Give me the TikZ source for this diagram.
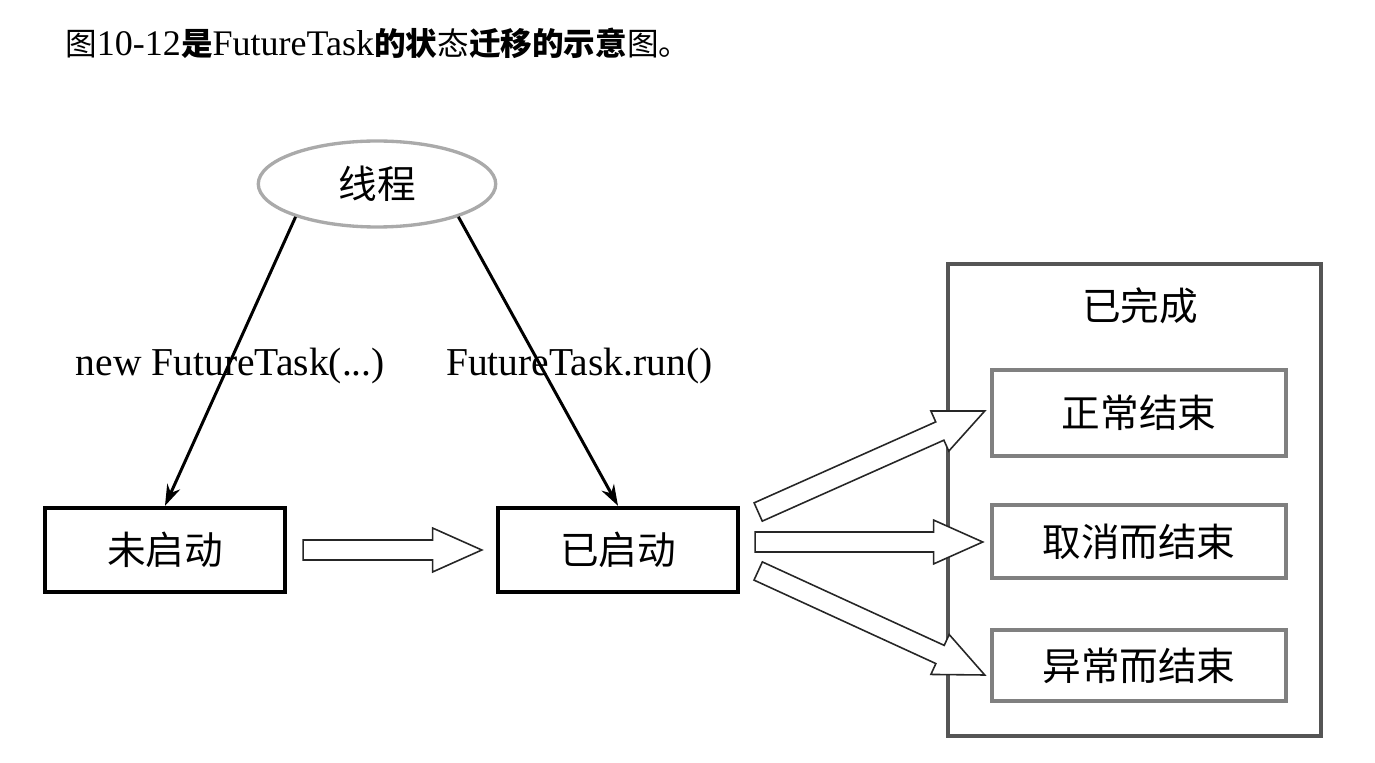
\documentclass[tikz,border=0pt]{standalone}
\usepackage{fontspec}
\setmainfont{Liberation Serif}
\newfontfamily\cjk{Noto Sans CJK SC}
\usetikzlibrary{shapes, arrows.meta, calc}

\definecolor{framegray}{RGB}{85,85,85}
\definecolor{boxgray}{RGB}{128,128,128}
\definecolor{ovalgray}{RGB}{170,170,170}

\newcommand{\capcjk}[1]{{\cjk\fontsize{18}{21}\selectfont #1}}
\newcommand{\capcjkb}[1]{{\cjk\bfseries\fontsize{18}{21}\selectfont #1}}

% open block arrow between two coordinates
\newcommand{\hollowarrow}[2]{%
  \coordinate (hb) at ($(#2)!28pt!(#1)$);
  \draw[hollow] ($(#1)!5.7pt!90:(#2)$) -- ($(hb)!5.7pt!90:(#2)$) -- ($(hb)!12.5pt!90:(#2)$) -- (#2)
    -- ($(hb)!12.5pt!-90:(#2)$) -- ($(hb)!5.7pt!-90:(#2)$) -- ($(#1)!5.7pt!-90:(#2)$) -- cycle;}

\begin{document}
\begin{tikzpicture}[x=0.02cm, y=-0.02cm,
        state/.style={rectangle, draw, line width=2.5pt, minimum width=4.8cm, minimum height=1.68cm, font=\cjk\fontsize{22}{26}\selectfont},
        result/.style={rectangle, draw=boxgray, line width=2.6pt, minimum width=5.88cm, font=\cjk\fontsize{22}{26}\selectfont},
        hollow/.style={draw=black!85, line width=0.9pt, fill=white, line join=miter},
        call/.style={-{Stealth[length=12pt, width=8pt]}, line width=1.7pt},
        method/.style={font=\fontsize{22.5}{26}\selectfont, yshift=-0.1cm}]
        \useasboundingbox (0,0) rectangle (1375,763);

        \node[anchor=west, inner sep=0] (title) at (65,43) {\fontsize{20.5}{24}\selectfont\capcjk{图}10-12\capcjkb{是}FutureTask\capcjkb{的状}\capcjk{态}\capcjkb{迁移的示意}\capcjk{图。}};

        \node[ellipse, draw=ovalgray, line width=1.9pt, minimum width=4.75cm, minimum height=1.72cm, font=\cjk\fontsize{22}{26}\selectfont] (thread) at (377,184) {线程};
        \node[state] (notstarted) at (165,550) {未启动};
        \node[state] (started) at (618,550) {已启动};

        \node[rectangle, draw=framegray, line width=2.6pt, minimum width=7.46cm, minimum height=9.44cm] (done) at (1134.5,500) {};
        \node[font=\cjk\fontsize{22}{26}\selectfont] (donelabel) at (1140,306) {已完成};
        \node[result, minimum height=1.72cm] (normal) at (1139,413) {正常结束};
        \node[result, minimum height=1.46cm] (cancelled) at (1139,541.5) {取消而结束};
        \node[result, minimum height=1.42cm] (failed) at (1139,665.5) {异常而结束};

        \draw[call] (thread.202) -- (notstarted.north) node[pos=.5, method] {new FutureTask(...)};
        \draw[call] (thread.338) -- (started.north) node[pos=.5, xshift=0.82cm, method] {FutureTask.run()};

        \coordinate (r0) at ($(notstarted.east)+(16,0)$);
        \coordinate (r1) at ($(started.west)+(-14,0)$);
        \coordinate (u0) at ($(started.east)+(18,-38)$);
        \coordinate (u1) at ($(normal.west)+(-5,-2)$);
        \coordinate (m0) at ($(started.east)+(15,-8)$);
        \coordinate (m1) at ($(cancelled.west)+(-7,0.5)$);
        \coordinate (l0) at ($(started.east)+(18,21)$);
        \coordinate (l1) at ($(failed.west)+(-5,9.5)$);

        \hollowarrow{r0}{r1}
        \hollowarrow{u0}{u1}
        \hollowarrow{m0}{m1}
        \hollowarrow{l0}{l1}
    \end{tikzpicture}
\end{document}
